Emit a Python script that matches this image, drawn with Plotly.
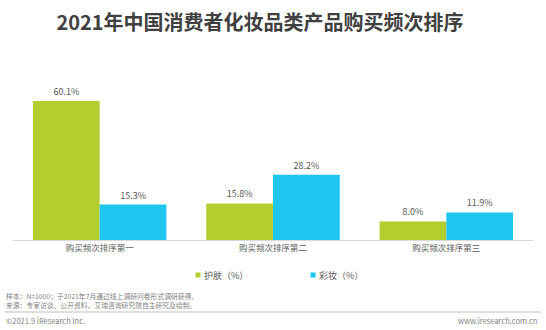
import plotly.graph_objects as go

categories = ["购买频次排序第一", "购买频次排序第二", "购买频次排序第三"]
skincare = [60.1, 15.8, 8.0]
makeup = [15.3, 28.2, 11.9]
series_names = ["护肤（%）", "彩妆（%）"]
colors = ["#B2CF2F", "#1EC6F0"]

FONT = "Noto Sans CJK SC"
W, H = 546, 330
L, R, T, B = 13, 13, 78, 90
PW, PH = W - L - R, H - T - B


def px(x):
    return (x - L) / PW


def py(y):
    return (H - B - y) / PH


fig = go.Figure()
for name, vals, c in zip(series_names, [skincare, makeup], colors):
    fig.add_trace(go.Bar(
        x=categories, y=vals, name=name, marker_color=c, marker_line_width=0,
        text=[f"{v:.1f}%" for v in vals], textposition="outside",
        textfont=dict(size=9, color="#595959", family=FONT),
        cliponaxis=False, showlegend=False,
    ))

fig.update_layout(
    width=W, height=H,
    margin=dict(l=L, r=R, t=T, b=B),
    paper_bgcolor="white", plot_bgcolor="white",
    barmode="group", bargap=0.23, bargroupgap=0,
    font=dict(family=FONT, color="#595959", size=9),
    title=dict(text="<b>2021年中国消费者化妆品类产品购买频次排序</b>",
               x=260 / W, xanchor="center", y=1 - 23 / H, yanchor="middle",
               font=dict(size=20, color="#404040", family=FONT)),
    showlegend=False,
    xaxis=dict(showline=True, linecolor="#D9D9D9", linewidth=1, ticks="",
               tickfont=dict(size=8.5, color="#595959", family=FONT), showgrid=False),
    yaxis=dict(range=[0, 70], visible=False, showgrid=False),
)

# legend (squares + labels)
for name, c, sx in zip(series_names, colors, [198, 313]):
    fig.add_shape(type="rect", xref="paper", yref="paper",
                  x0=px(sx - 2.5), x1=px(sx + 2.5), y0=py(275 + 2.5), y1=py(275 - 2.5),
                  fillcolor=c, line=dict(width=0))
    fig.add_annotation(text=name, xref="paper", yref="paper",
                       x=px(sx + 4), y=py(275), xanchor="left", yanchor="middle",
                       showarrow=False, font=dict(size=9, color="#595959", family=FONT))

fig.add_annotation(text="样本：N=1000；于2021年7月通过线上调研问卷形式调研获得。<br>来源：专家访谈、公开资料，艾瑞咨询研究院自主研究及绘制。",
                   xref="paper", yref="paper", x=px(4), y=py(300.3),
                   xanchor="left", yanchor="middle", align="left", showarrow=False,
                   font=dict(size=6.8, color="#7F7F7F", family=FONT))
fig.add_shape(type="line", xref="paper", yref="paper",
              x0=px(5), x1=px(541), y0=py(312), y1=py(312),
              line=dict(color="#BFBFBF", width=1))
fig.add_annotation(text="©2021.9 iResearch Inc.", xref="paper", yref="paper",
                   x=px(4), y=py(320), xanchor="left", yanchor="middle", showarrow=False,
                   font=dict(size=7.5, color="#7F7F7F", family=FONT))
fig.add_annotation(text="www.iresearch.com.cn", xref="paper", yref="paper",
                   x=px(539), y=py(320), xanchor="right", yanchor="middle", showarrow=False,
                   font=dict(size=7.5, color="#7F7F7F", family=FONT))

fig.write_html("out.html")
